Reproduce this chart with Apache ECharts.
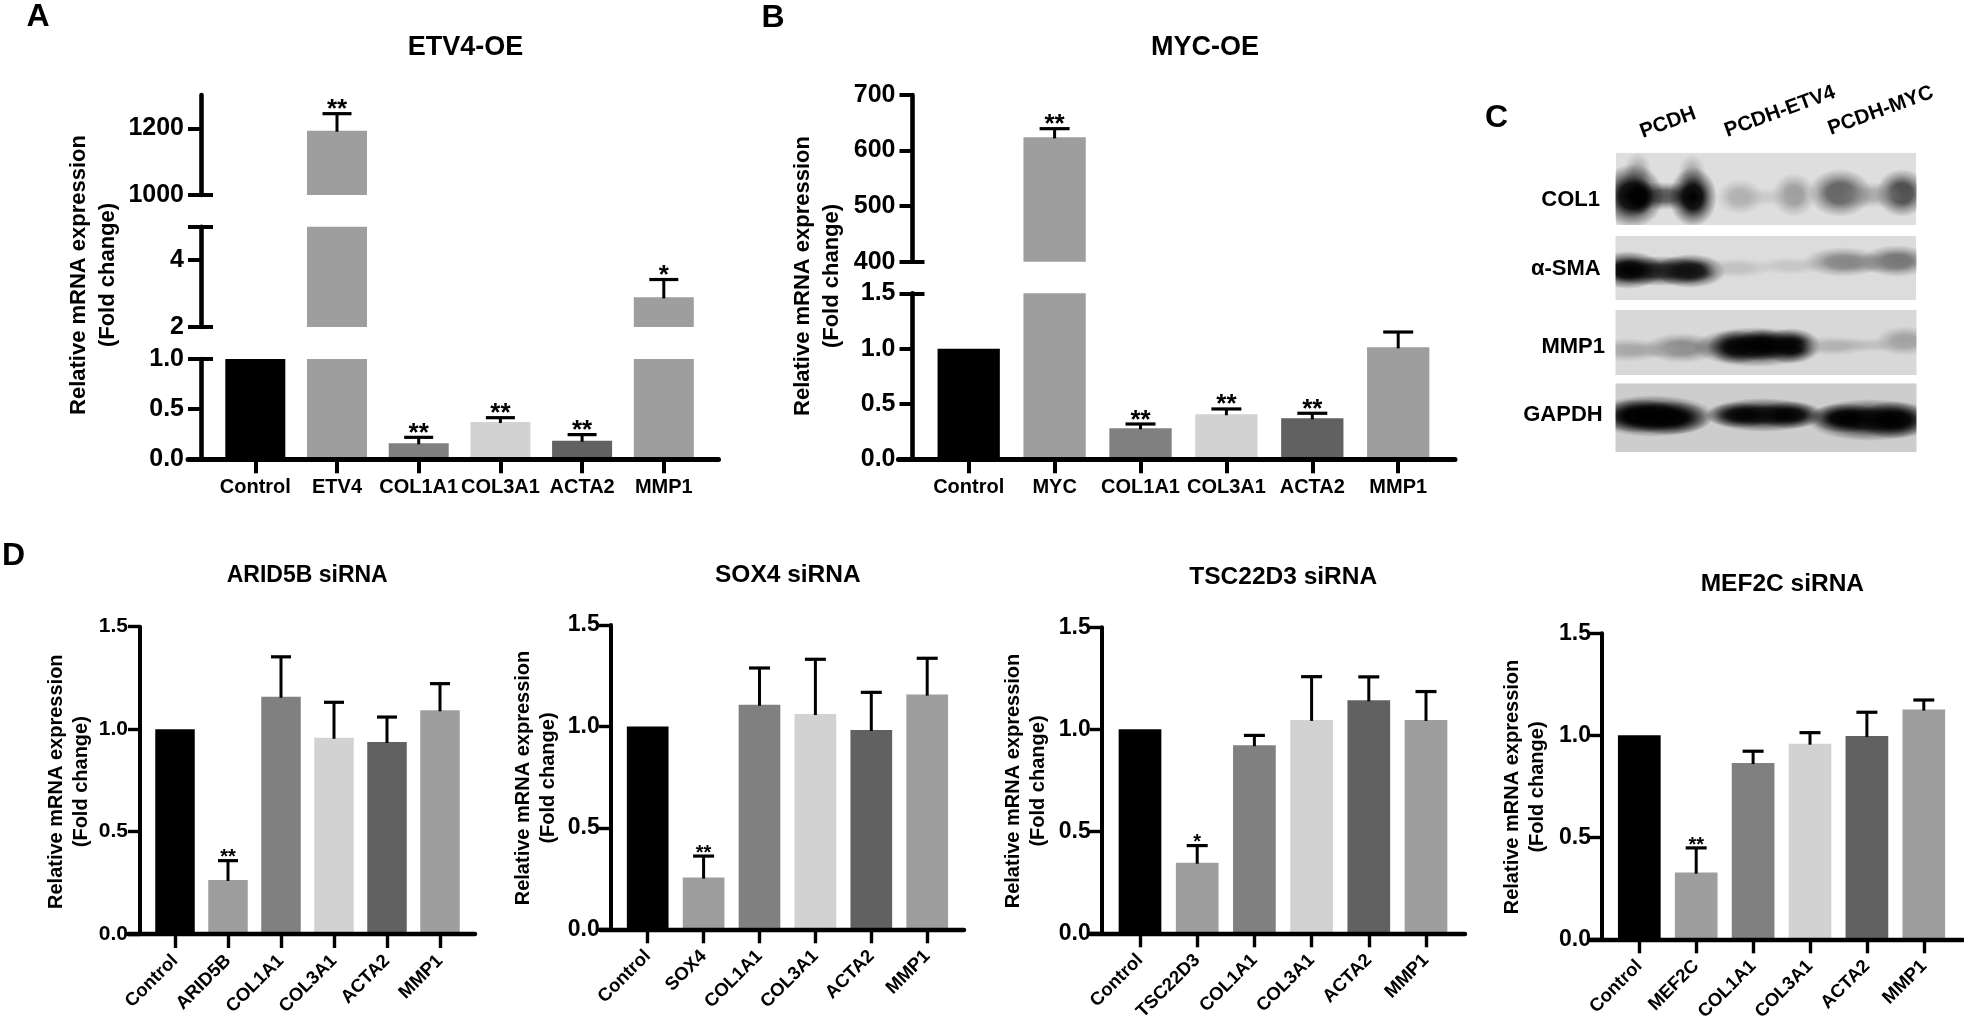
<!DOCTYPE html>
<html>
<head>
<meta charset="utf-8">
<script src="https://cdn.jsdelivr.net/npm/echarts@6/dist/echarts.min.js"></script>
<style>html,body{margin:0;padding:0;background:#fff}#c{width:1964px;height:1017px}</style>
</head>
<body>
<div id="c"></div>
<script>
// ---------- data ----------
const etv4Cats = ['Control','ETV4','COL1A1','COL3A1','ACTA2','MMP1'];
const etv4Means = [1, 1193, 0.159, 0.372, 0.186, 2.887];
const etv4Caps  = [null, 1244, 0.219, 0.415, 0.246, 3.42];
const etv4Sig   = ['', '**', '**', '**', '**', '*'];

const mycCats = ['Control','MYC','COL1A1','COL3A1','ACTA2','MMP1'];
const mycMeans = [1, 623.8, 0.28, 0.407, 0.37, 1.012];
const mycCaps  = [null, 639.4, 0.319, 0.455, 0.416, 1.15];
const mycSig   = ['', '**', '**', '**', '**', ''];

const arid5bCats = ['Control','ARID5B','COL1A1','COL3A1','ACTA2','MMP1'];
const arid5bMeans = [1, 0.264, 1.158, 0.958, 0.937, 1.092];
const arid5bCaps  = [null, 0.358, 1.353, 1.131, 1.059, 1.222];
const arid5bSig   = ['', '**', '', '', '', ''];

const sox4Cats = ['Control','SOX4','COL1A1','COL3A1','ACTA2','MMP1'];
const sox4Means = [1, 0.255, 1.107, 1.061, 0.982, 1.157];
const sox4Caps  = [null, 0.361, 1.288, 1.331, 1.168, 1.336];
const sox4Sig   = ['', '**', '', '', '', ''];

const tscCats = ['Control','TSC22D3','COL1A1','COL3A1','ACTA2','MMP1'];
const tscMeans = [1, 0.346, 0.922, 1.046, 1.142, 1.046];
const tscCaps  = [null, 0.43, 0.97, 1.258, 1.257, 1.185];
const tscSig   = ['', '*', '', '', '', ''];

const mefCats = ['Control','MEF2C','COL1A1','COL3A1','ACTA2','MMP1'];
const mefMeans = [1, 0.327, 0.864, 0.959, 0.997, 1.126];
const mefCaps  = [null, 0.448, 0.922, 1.013, 1.113, 1.173];
const mefSig   = ['', '**', '', '', '', ''];

const barColors = ['#000000','#9e9e9e','#808080','#d2d2d2','#616161','#9e9e9e'];
const yName = 'Relative mRNA expression\n(Fold change)';
const FONT = '"Liberation Sans", Arial, sans-serif';

const blotRows = ['COL1','α-SMA','MMP1','GAPDH'];
const blotCols = ['PCDH','PCDH-ETV4','PCDH-MYC'];

// ---------- panel layout ----------
const panels = [
  {title:'ETV4-OE', cats:etv4Cats, means:etv4Means, caps:etv4Caps, sig:etv4Sig,
   axisX:201, c0:255.3, band:81.7, barW:60, right:718.5, tickLeft:188, titleX:407.7, titleY:47.5, titleFont:27,
   labelFont:25, catFont:20, catRotate:0, catMargin:18, sigFont:26, nameFont:22, nameLH:29, nameCX:93, nameCY:275,
   lw:4.6, tickLen:13, capW:29, labelMargin:17, baseline:459.3,
   segs:[{min:0,max:1,top:359,bottom:459.3,ticks:[0,0.5,1],labels:[0,0.5,1],inner:[1],dec:1},
         {min:2,max:5,top:226.7,bottom:327,ticks:[2,4,5],labels:[2,4],inner:[2,5],dec:0},
         {min:1000,max:1300,top:95,bottom:195,ticks:[1000,1200],labels:[1000,1200],inner:[1000],dec:0}]},
  {title:'MYC-OE', cats:mycCats, means:mycMeans, caps:mycCaps, sig:mycSig,
   axisX:912.5, c0:968.7, band:85.9, barW:62.3, right:1455, tickLeft:898.4, titleX:1150.9, titleY:47.5, titleFont:27,
   labelFont:25, catFont:20, catRotate:0, catMargin:18, sigFont:26, nameFont:22, nameLH:29, nameCX:817, nameCY:276,
   lw:4.6, tickLen:13, capW:30, labelMargin:17, baseline:459.3,
   segs:[{min:0,max:1.5,top:293.3,bottom:459.3,ticks:[0,0.5,1,1.5],labels:[0,0.5,1,1.5],inner:[1.5],dec:1},
         {min:400,max:700,top:95,bottom:261.7,ticks:[400,500,600,700],labels:[400,500,600,700],inner:[400],dec:0}]},
  {title:'ARID5B siRNA', cats:arid5bCats, means:arid5bMeans, caps:arid5bCaps, sig:arid5bSig,
   axisX:140, c0:175, band:53, barW:39.5, right:475, tickLeft:128, titleX:226.7, titleY:576, titleFont:23,
   labelFont:21, catFont:18.5, catRotate:45, catMargin:24, sigFont:20, nameFont:20, nameLH:25, nameCX:69, nameCY:781.7,
   lw:4, tickLen:12, capW:20, labelMargin:12, baseline:934,
   segs:[{min:0,max:1.5,top:626.7,bottom:934,ticks:[0,0.5,1,1.5],labels:[0,0.5,1,1.5],inner:[],dec:1}]},
  {title:'SOX4 siRNA', cats:sox4Cats, means:sox4Means, caps:sox4Caps, sig:sox4Sig,
   axisX:610.7, c0:647.7, band:55.9, barW:41.7, right:964, tickLeft:600, titleX:715, titleY:575, titleFont:24.5,
   labelFont:23, catFont:18.5, catRotate:45, catMargin:24, sigFont:20, nameFont:20, nameLH:25, nameCX:536, nameCY:778,
   lw:4, tickLen:12, capW:21, labelMargin:11, baseline:929.3,
   segs:[{min:0,max:1.5,top:625,bottom:929.3,ticks:[0,0.5,1,1.5],labels:[0,0.5,1,1.5],inner:[],dec:1}]},
  {title:'TSC22D3 siRNA', cats:tscCats, means:tscMeans, caps:tscCaps, sig:tscSig,
   axisX:1101.7, c0:1140, band:57.2, barW:42.7, right:1465, tickLeft:1090, titleX:1189.3, titleY:577, titleFont:24.5,
   labelFont:23, catFont:18.5, catRotate:45, catMargin:24, sigFont:20, nameFont:20, nameLH:25, nameCX:1026, nameCY:781,
   lw:4, tickLen:12, capW:21, labelMargin:11, baseline:933.3,
   segs:[{min:0,max:1.5,top:627.3,bottom:933.3,ticks:[0,0.5,1,1.5],labels:[0,0.5,1,1.5],inner:[],dec:1}]},
  {title:'MEF2C siRNA', cats:mefCats, means:mefMeans, caps:mefCaps, sig:mefSig,
   axisX:1602, c0:1639.3, band:56.9, barW:42.7, right:1963, tickLeft:1589, titleX:1700.7, titleY:583.5, titleFont:24.5,
   labelFont:23, catFont:18.5, catRotate:45, catMargin:24, sigFont:20, nameFont:20, nameLH:25, nameCX:1525, nameCY:787,
   lw:4, tickLen:12, capW:21, labelMargin:11, baseline:939.3,
   segs:[{min:0,max:1.5,top:633.3,bottom:939.3,ticks:[0,0.5,1,1.5],labels:[0,0.5,1,1.5],inner:[],dec:1}]}
];

const letters = [{t:'A',x:26.6,y:17.5},{t:'B',x:761.5,y:18},{t:'C',x:1485,y:118},{t:'D',x:2,y:556}];

const grids = [], xAxes = [], yAxes = [], series = [], titles = [];

function addPanel(p) {
  const gridLeft = p.c0 - p.band / 2, gridW = p.band * 6, off = gridLeft - p.axisX;
  titles.push({text:p.title, left:p.titleX, top:p.titleY - p.titleFont / 2, padding:0,
    textStyle:{fontFamily:FONT, fontWeight:'bold', fontSize:p.titleFont, color:'#000'}});

  // spine grid: baseline running past the bars, and the two-line axis title
  const spine = grids.length;
  const sTop = 2 * p.nameCY - p.baseline;
  grids.push({left:p.tickLeft, width:p.right - p.tickLeft, top:sTop, height:p.baseline - sTop, outerBoundsMode:'none'});
  xAxes.push({type:'value', gridIndex:spine, min:0, max:1, z:6, position:'bottom',
    axisLine:{show:true, onZero:false, lineStyle:{color:'#000', width:p.lw + 0.4}},
    axisTick:{show:false}, axisLabel:{show:false}, splitLine:{show:false}});
  yAxes.push({type:'value', gridIndex:spine, min:0, max:1, position:'left',
    axisLine:{show:false}, axisTick:{show:false}, axisLabel:{show:false}, splitLine:{show:false},
    name:yName, nameLocation:'middle', nameRotate:90,
    nameGap:p.tickLeft - (p.nameCX + p.nameLH),
    nameTextStyle:{fontFamily:FONT, fontWeight:'bold', fontSize:p.nameFont, lineHeight:p.nameLH, color:'#000', align:'center'}});

  p.segs.forEach((s, si) => {
    const g = grids.length;
    grids.push({left:gridLeft, width:gridW, top:s.top, height:s.bottom - s.top, outerBoundsMode:'none'});
    const xi = xAxes.length;
    xAxes.push({type:'category', gridIndex:g, data:p.cats, z:5, position:'bottom',
      axisLine:{show:false},
      axisTick:{show:si === 0, alignWithLabel:true, length:14, lineStyle:{color:'#000', width:p.lw - 0.6}},
      axisLabel:{show:si === 0, interval:0, hideOverlap:false, rotate:p.catRotate, margin:p.catMargin,
        fontFamily:FONT, fontWeight:'bold', fontSize:p.catFont, color:'#000'},
      splitLine:{show:false}});
    const yi = yAxes.length;
    yAxes.push({type:'value', gridIndex:g, min:s.min, max:s.max, position:'left', offset:off, z:5,
      axisLine:{show:true, onZero:false, lineStyle:{color:'#000', width:p.lw}},
      axisTick:{show:true, length:p.tickLen, customValues:s.ticks, lineStyle:{color:'#000', width:p.lw - 0.6}},
      axisLabel:{show:true, margin:p.labelMargin, customValues:s.labels,
        formatter:v => Number(v).toFixed(s.dec),
        fontFamily:FONT, fontWeight:'bold', fontSize:p.labelFont, color:'#000'},
      splitLine:{show:false}});
    if (s.inner.length) {
      yAxes.push({type:'value', gridIndex:g, min:s.min, max:s.max, position:'left', offset:off, z:5,
        axisLine:{show:false},
        axisTick:{show:true, inside:true, length:p.tickLen - 1, customValues:s.inner, lineStyle:{color:'#000', width:p.lw - 0.6}},
        axisLabel:{show:false}, splitLine:{show:false}});
    }
    series.push({type:'bar', xAxisIndex:xi, yAxisIndex:yi, barWidth:p.barW, silent:true, animation:false,
      clip:true,
      data:p.means.map((v, i) => ({value:v >= s.min ? v : null, itemStyle:{color:barColors[i]}}))});
    // T-shaped error bar and significance stars, only in the segment that holds the mean
    const inSeg = v => v >= s.min && v <= s.max;
    const capData = p.caps.map((c, i) => [i, (c != null && inSeg(p.means[i])) ? c : null]);
    series.push({type:'custom', xAxisIndex:xi, yAxisIndex:yi, silent:true, animation:false, clip:false, z:4,
      encode:{x:0, y:1},
      data:capData,
      renderItem:(params, api) => {
        const i = api.value(0), c = api.value(1);
        if (isNaN(c)) return null;
        const top = api.coord([i, c]), base = api.coord([i, p.means[i]]);
        const kids = [
          {type:'line', shape:{x1:top[0], y1:base[1] + 1, x2:top[0], y2:top[1]}, style:{stroke:'#000', lineWidth:3}},
          {type:'line', shape:{x1:top[0] - p.capW / 2, y1:top[1], x2:top[0] + p.capW / 2, y2:top[1]}, style:{stroke:'#000', lineWidth:3.2}}
        ];
        if (p.sig[i]) kids.push({type:'text', style:{text:p.sig[i], x:top[0], y:top[1] + p.sigFont * 0.36,
          textAlign:'center', textVerticalAlign:'bottom',
          font:'bold ' + p.sigFont + 'px ' + FONT, fill:'#000'}});
        return {type:'group', children:kids};
      }});
  });
}
panels.forEach(addPanel);

letters.forEach(l => titles.push({text:l.t, left:l.x, top:l.y - 16, padding:0,
  textStyle:{fontFamily:FONT, fontWeight:'bold', fontSize:32, color:'#000'}}));

// ---------- panel C: western-blot photograph, painted with soft shapes ----------
const blotBoxes = [
  {x:1616,y:152.7,w:300,h:72.3,fill:'#dedede'},
  {x:1615,y:236,w:301,h:64,fill:'#dcdcdc'},
  {x:1615,y:310,w:302,h:65,fill:'#d8d8d8'},
  {x:1615,y:383.3,w:302,h:69,fill:'#cdcdcd'}
];
// [x, y, rx, ry, grey, alpha] in reference pixels
const blotBands = [
  // COL1
  [1638,172,14,20,100,.4],[1692,174,14,20,100,.4],
  [1663,196,42,14,70,.9],[1632,196,32,32,0,1],[1693,197,24,30,0,1],
  [1640,197,14,18,0,1],
  [1740,197,24,18,140,.55],[1794,195,22,22,120,.65],[1767,197,42,9,175,.4],
  [1840,193,32,24,60,.8],[1902,193,26,24,50,.9],[1870,195,48,13,130,.55],
  // alpha-SMA
  [1660,271,56,15,30,.95],[1628,270,36,19,0,1],[1690,271,36,17,15,1],
  [1737,268,36,10,165,.5],[1790,266,36,9,170,.45],
  [1843,262,40,15,100,.7],[1897,261,36,16,85,.8],[1870,263,50,10,130,.55],
  // MMP1
  [1627,350,40,12,140,.6],[1682,348,38,15,110,.75],[1655,350,50,8,160,.5],
  [1755,347,62,20,20,.95],[1737,347,30,17,0,.9],[1763,345,28,16,0,1],[1791,346,30,18,0,1],
  [1833,346,36,10,150,.55],[1905,341,30,15,130,.65],[1870,345,52,7,170,.5],
  // GAPDH
  [1653,416,62,21,10,1],[1640,416,42,17,0,1],[1670,418,42,17,0,1],
  [1763,415,58,17,15,1],[1740,415,34,13,0,.9],[1790,415,34,14,0,.95],
  [1870,420,64,21,10,1],[1845,418,36,15,0,1],[1895,420,38,19,0,1]
];
// white strips that trim the soft bands back to each blot strip's edge
const blotMasks = [
  [1575,130,40.5,330],[1916.5,130,44,330],[1575,130,386,22.7],
  [1575,225,386,11],[1575,300,386,10],[1575,375,386,8.3],[1575,452.3,386,20]
];
const graphicEls = [];
blotBoxes.forEach(b => graphicEls.push({type:'rect', silent:true, z:1, shape:{x:b.x,y:b.y,width:b.w,height:b.h}, style:{fill:b.fill}}));
blotBands.forEach(b => {
  const [x,y,rx,ry,g,a] = b;
  graphicEls.push({type:'circle', silent:true, z:2, x:x, y:y, scaleY:ry / rx, shape:{cx:0,cy:0,r:rx},
    style:{fill:{type:'radial', x:0.5, y:0.5, r:0.5, colorStops:[
      {offset:0, color:`rgba(${g},${g},${g},${a})`},
      {offset:0.4, color:`rgba(${g},${g},${g},${a*0.9})`},
      {offset:0.7, color:`rgba(${g},${g},${g},${a*0.4})`},
      {offset:1, color:`rgba(${g},${g},${g},0)`}]}}});
});
blotMasks.forEach(m => graphicEls.push({type:'rect', silent:true, z:3, shape:{x:m[0],y:m[1],width:m[2],height:m[3]}, style:{fill:'#fff'}}));
const rowLabelPos = [[1600,200],[1600.7,269],[1605,346.7],[1602.7,415]];
blotRows.forEach((t,i) => graphicEls.push({type:'text', silent:true, z:4, x:rowLabelPos[i][0], y:rowLabelPos[i][1],
  style:{text:t, textAlign:'right', textVerticalAlign:'middle', font:'bold 22px ' + FONT, fill:'#000'}}));
const colLabelPos = [[1668,122.7],[1780,111.7],[1880.7,110.7]];
blotCols.forEach((t,i) => graphicEls.push({type:'text', silent:true, z:4, x:colLabelPos[i][0], y:colLabelPos[i][1], rotation:Math.PI * 20 / 180,
  style:{text:t, textAlign:'center', textVerticalAlign:'middle', font:'bold 20.5px ' + FONT, fill:'#000'}}));

const chart = echarts.init(document.getElementById('c'), null, {renderer:'canvas'});
chart.setOption({
  animation:false, backgroundColor:'#fff', tooltip:{show:false},
  title:titles, grid:grids, xAxis:xAxes, yAxis:yAxes, series:series, graphic:{elements:graphicEls}
});
</script>
</body>
</html>
